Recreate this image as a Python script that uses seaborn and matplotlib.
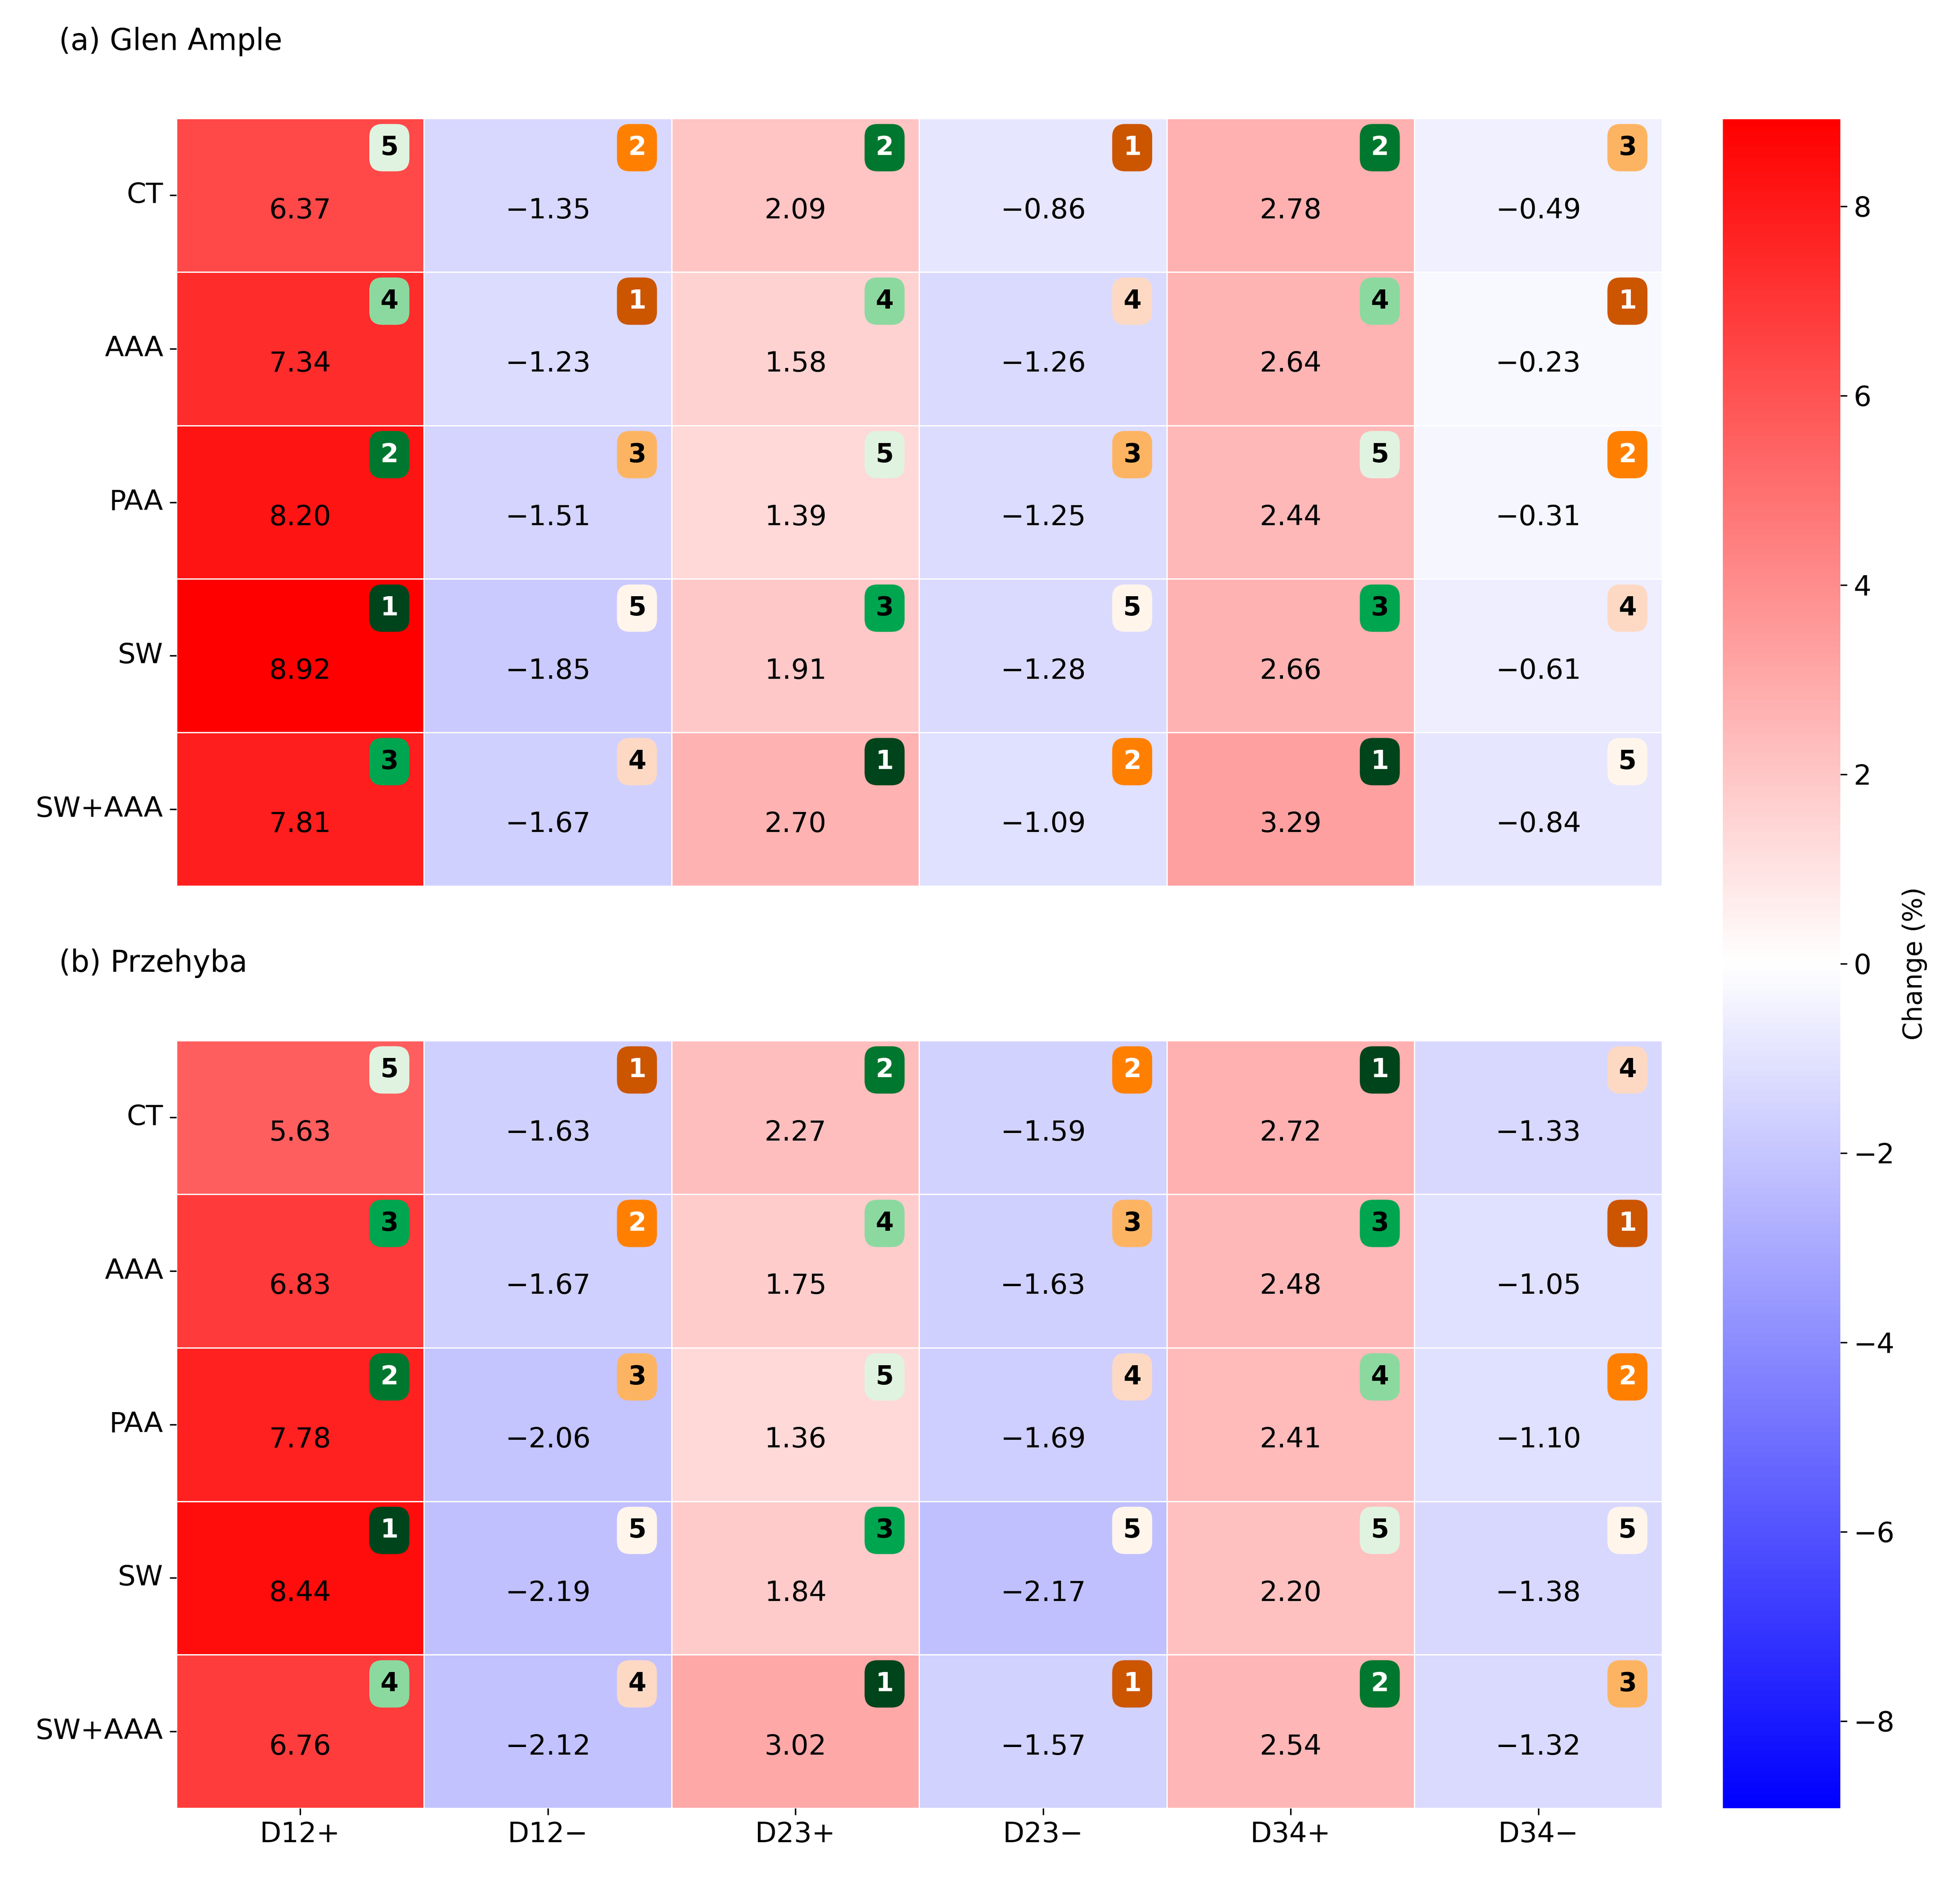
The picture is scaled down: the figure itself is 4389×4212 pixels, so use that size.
import matplotlib.pyplot as plt
import numpy as np
import pandas as pd
import seaborn as sns

treatments = ["CT", "AAA", "PAA", "SW", "SW+AAA"]
metrics = ["D12+", "D12\u2212", "D23+", "D23\u2212", "D34+", "D34\u2212"]
positive_cols = [True, False, True, False, True, False]

glen_values = [
    [6.37, -1.35, 2.09, -0.86, 2.78, -0.49],
    [7.34, -1.23, 1.58, -1.26, 2.64, -0.23],
    [8.20, -1.51, 1.39, -1.25, 2.44, -0.31],
    [8.92, -1.85, 1.91, -1.28, 2.66, -0.61],
    [7.81, -1.67, 2.70, -1.09, 3.29, -0.84],
]
glen_ranks = [
    [5, 2, 2, 1, 2, 3],
    [4, 1, 4, 4, 4, 1],
    [2, 3, 5, 3, 5, 2],
    [1, 5, 3, 5, 3, 4],
    [3, 4, 1, 2, 1, 5],
]
prz_values = [
    [5.63, -1.63, 2.27, -1.59, 2.72, -1.33],
    [6.83, -1.67, 1.75, -1.63, 2.48, -1.05],
    [7.78, -2.06, 1.36, -1.69, 2.41, -1.10],
    [8.44, -2.19, 1.84, -2.17, 2.20, -1.38],
    [6.76, -2.12, 3.02, -1.57, 2.54, -1.32],
]
prz_ranks = [
    [5, 1, 2, 2, 1, 4],
    [3, 2, 4, 3, 3, 1],
    [2, 3, 5, 4, 4, 2],
    [1, 5, 3, 5, 5, 5],
    [4, 4, 1, 1, 2, 3],
]

green = {1: "#00441b", 2: "#00772e", 3: "#00a550", 4: "#8cd9a0", 5: "#e0f3e0"}
orange = {1: "#cc5500", 2: "#ff8000", 3: "#fdb462", 4: "#fdd9c4", 5: "#fff5eb"}

vmax = 8.92
plt.rcParams["font.size"] = 15

fig = plt.figure(figsize=(4389 / 300, 4212 / 300), dpi=300)
ax_a = fig.add_axes([0.090, 0.529, 0.758, 0.408])
ax_b = fig.add_axes([0.090, 0.0387, 0.758, 0.408])
cax = fig.add_axes([0.879, 0.0387, 0.060, 0.898])


def draw_panel(ax, values, ranks, show_cbar):
    df = pd.DataFrame(values, index=treatments, columns=metrics)
    sns.heatmap(df, ax=ax, cmap="bwr", vmin=-vmax, vmax=vmax, annot=False,
                linewidths=0.6, linecolor="white",
                cbar=show_cbar, cbar_ax=cax if show_cbar else None)
    for i in range(len(treatments)):
        for j in range(len(metrics)):
            ax.text(j + 0.5, i + 0.6, f"{values[i][j]:.2f}".replace("-", "\u2212"),
                    ha="center", va="center", fontsize=15, color="black")
            r = ranks[i][j]
            fc = green[r] if positive_cols[j] else orange[r]
            tc = "white" if r <= 2 else "black"
            ax.text(j + 0.86, i + 0.19, str(r), ha="center", va="center",
                    fontsize=14, fontweight="bold", color=tc,
                    bbox=dict(boxstyle="round,pad=0.42,rounding_size=0.5",
                              fc=fc, ec="none"))
    ax.set_xlabel("")
    ax.set_ylabel("")
    ax.tick_params(axis="y", rotation=0, labelsize=15)
    ax.tick_params(axis="x", rotation=0, labelsize=15)


draw_panel(ax_a, glen_values, glen_ranks, True)
draw_panel(ax_b, prz_values, prz_ranks, False)
ax_a.set_xticks([])

cax.set_yticks([-8, -6, -4, -2, 0, 2, 4, 6, 8])
cax.tick_params(labelsize=15)
cax.set_ylabel("Change (%)", fontsize=14)

fig.text(0.03, 0.978, "(a) Glen Ample", fontsize=16, va="center")
fig.text(0.03, 0.488, "(b) Przehyba", fontsize=16, va="center")

fig.savefig("out.png", dpi=300)
